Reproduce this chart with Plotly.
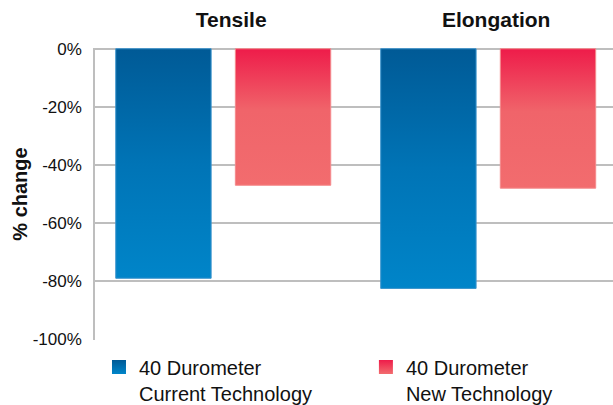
import plotly.graph_objects as go

# Property categories and percent change after ageing
categories = ["Tensile", "Elongation"]
current_tech = [-79, -82.5]
new_tech = [-47, -48]

series_names = ["40 Durometer<br>Current Technology", "40 Durometer<br>New Technology"]

y_tickvals = [0, -20, -40, -60, -80, -100]
y_ticktext = ["0%", "-20%", "-40%", "-60%", "-80%", "-100%"]

# Gradient colour stops (bottom -> top) and bar edge colours
blue_scale = [[0, "#0085C9"], [0.5, "#0074B6"], [1, "#005A96"]]
red_scale = [[0, "#F26C6E"], [0.55, "#F0646A"], [1, "#EE1C4A"]]
blue_edge = "#3A93CC"
red_edge = "#F48A8C"

BAR_OFFSET = 0.2257   # distance of each bar centre from its category centre
BAR_HALF = 0.180      # half width of a bar, in category units

FONT = "Liberation Sans, Arial, sans-serif"
TEXT = "#111111"

fig = go.Figure()


def add_bar(center, value, scale, edge):
    x0, x1 = center - BAR_HALF, center + BAR_HALF
    fig.add_trace(go.Scatter(
        x=[x0, x1, x1, x0, x0],
        y=[0, 0, value, value, 0],
        mode="lines",
        line=dict(color=edge, width=1),
        fill="toself",
        fillgradient=dict(type="vertical", colorscale=scale),
        showlegend=False,
        hoverinfo="skip",
    ))


for i, cat in enumerate(categories):
    add_bar(i - BAR_OFFSET, current_tech[i], blue_scale, blue_edge)
    add_bar(i + BAR_OFFSET, new_tech[i], red_scale, red_edge)

# One legend per series so each entry sits in its own column
for name, scale, leg in [(series_names[0], blue_scale, "legend"),
                         (series_names[1], red_scale, "legend2")]:
    fig.add_trace(go.Scatter(
        x=[None], y=[None],
        mode="markers",
        name=name,
        legend=leg,
        marker=dict(symbol="square", size=14, color=scale[-1][1],
                    gradient=dict(type="vertical", color=scale[0][1]),
                    line=dict(width=0)),
    ))

grid = "#BEBEBE"
legend_common = dict(
    yref="container", y=0.142, yanchor="top",
    xanchor="left",
    font=dict(size=20, color=TEXT, family=FONT),
    valign="top",
    bgcolor="rgba(0,0,0,0)",
)

fig.update_layout(
    width=613, height=405,
    margin=dict(l=95, r=0, t=48, b=65, autoexpand=False),
    paper_bgcolor="white",
    plot_bgcolor="white",
    font=dict(family=FONT, color=TEXT),
    showlegend=True,
    legend=dict(x=0.0077, **legend_common),
    legend2=dict(x=0.523, **legend_common),
    xaxis=dict(
        range=[-0.484, 1.471],
        side="top",
        tickmode="array",
        tickvals=list(range(len(categories))),
        ticktext=categories,
        tickfont=dict(size=21, family=FONT, color=TEXT, weight="bold"),
        ticks="",
        ticklabelstandoff=16,
        ticklabelshift=8,
        showgrid=False,
        zeroline=False,
        showline=False,
        automargin=False,
        fixedrange=True,
    ),
    yaxis=dict(
        range=[-100.25, 0.25],
        tickmode="array",
        tickvals=y_tickvals,
        ticktext=y_ticktext,
        tickfont=dict(size=17, color=TEXT),
        ticks="",
        ticklabelstandoff=8,
        showgrid=True,
        gridcolor=grid,
        gridwidth=1.5,
        zeroline=True,
        zerolinecolor=grid,
        zerolinewidth=1.5,
        showline=True,
        linecolor=grid,
        linewidth=1.5,
        automargin=False,
        title=dict(text="<b>% change</b>", font=dict(size=20, color=TEXT), standoff=0),
        fixedrange=True,
    ),
)

fig.write_html("out.html")
